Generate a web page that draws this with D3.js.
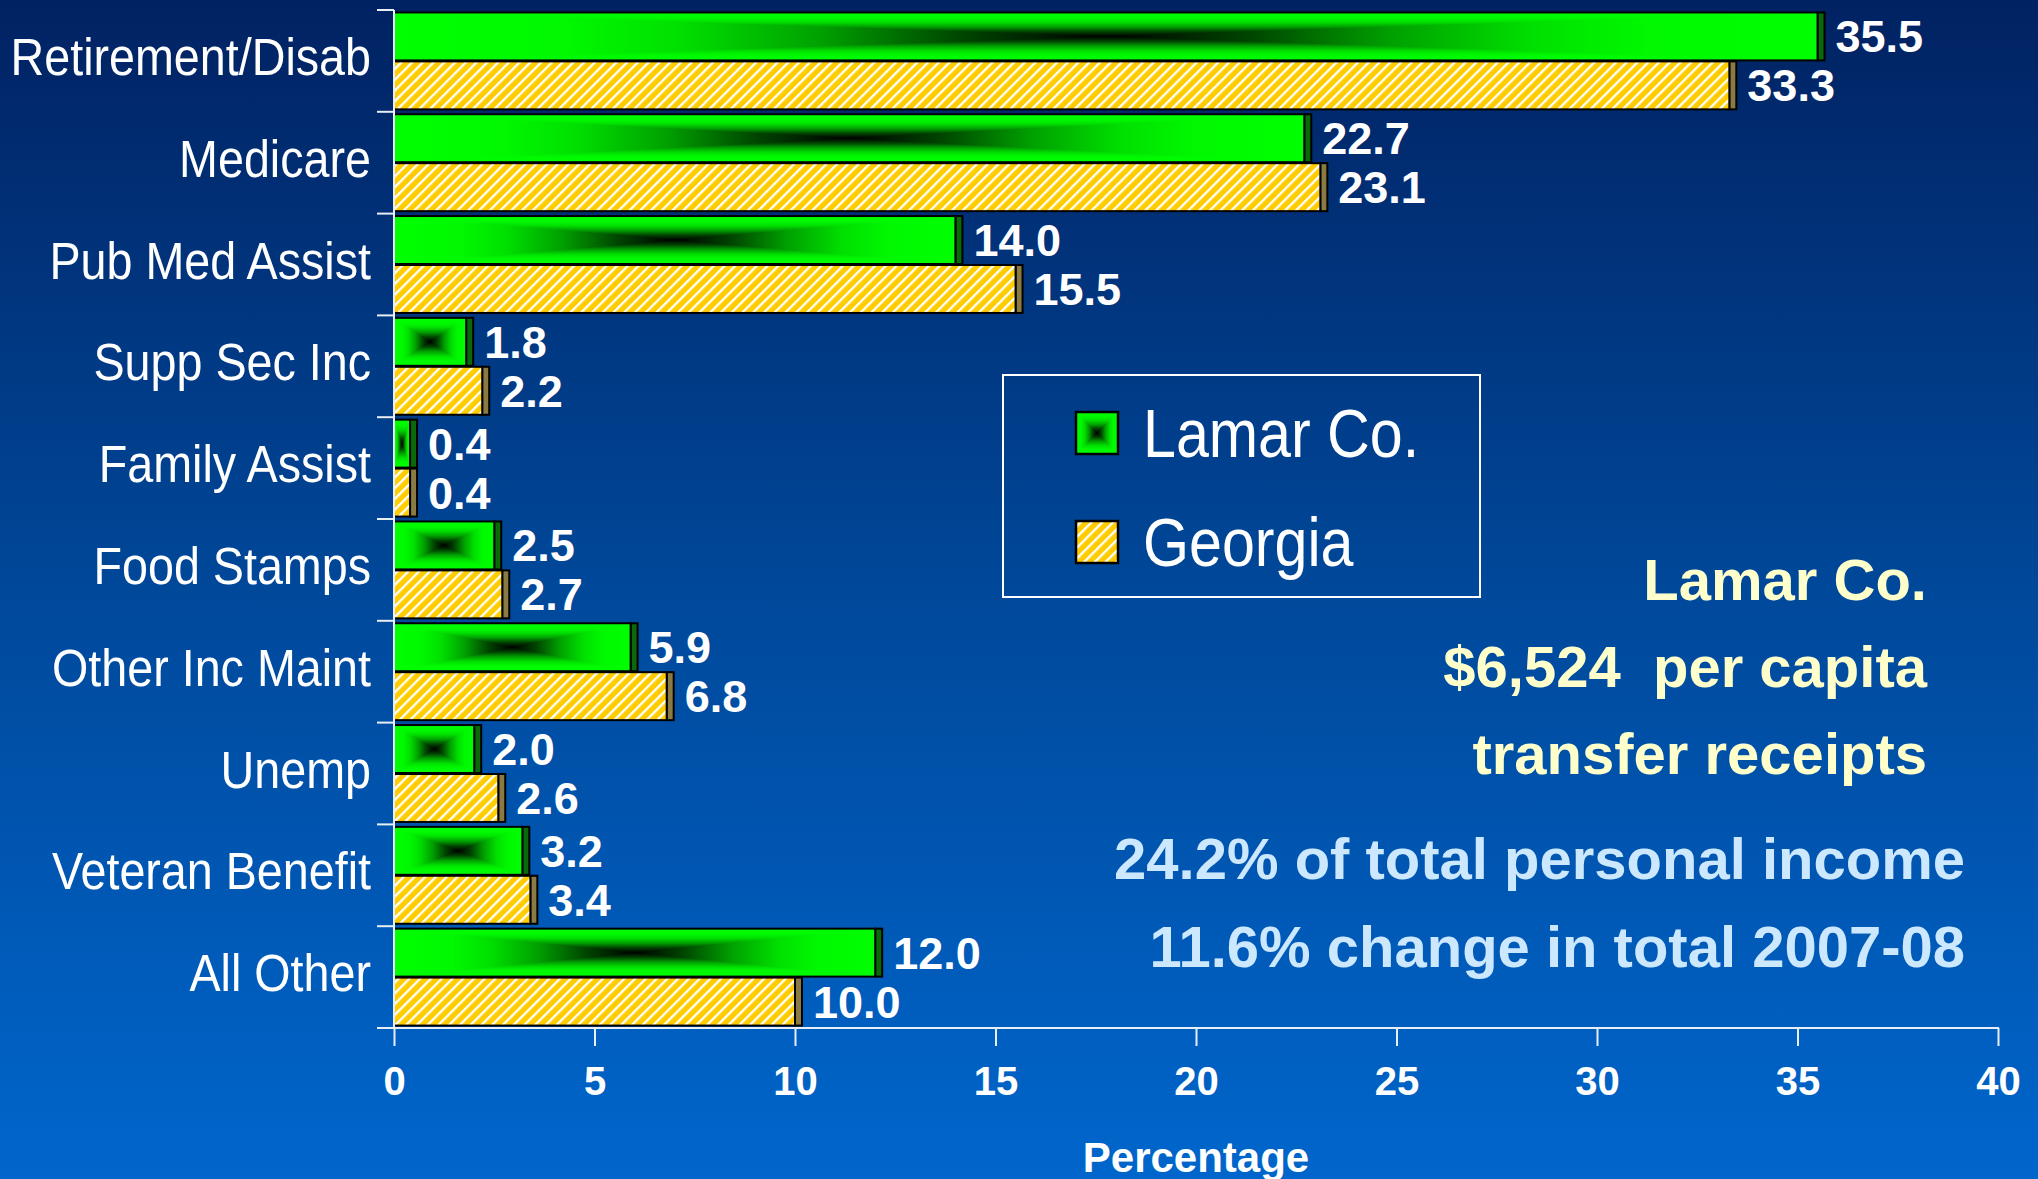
<!DOCTYPE html>
<html>
<head>
<meta charset="utf-8">
<script src="https://cdn.jsdelivr.net/npm/d3@7"></script>
<style>
  html, body { margin: 0; padding: 0; overflow: hidden; background: #0066cc; }
  svg { display: block; }
  text { white-space: pre; }
</style>
</head>
<body>
<script>
// ---------- data ----------
const categories = ["Retirement/Disab", "Medicare", "Pub Med Assist", "Supp Sec Inc", "Family Assist",
                    "Food Stamps", "Other Inc Maint", "Unemp", "Veteran Benefit", "All Other"];
const seriesNames = ["Lamar Co.", "Georgia"];
const lamarValues = [35.5, 22.7, 14.0, 1.8, 0.4, 2.5, 5.9, 2.0, 3.2, 12.0];
const georgiaValues = [33.3, 23.1, 15.5, 2.2, 0.4, 2.7, 6.8, 2.6, 3.4, 10.0];
const xTickValues = [0, 5, 10, 15, 20, 25, 30, 35, 40];
const xAxisTitle = "Percentage";
const noteLinesYellow = ["Lamar Co.", "$6,524  per capita", "transfer receipts"];
const noteLinesBlue = ["24.2% of total personal income", "11.6% change in total 2007-08"];

// ---------- setup ----------
const W = 2038, H = 1179;
const svg = d3.select("body").append("svg").attr("width", W).attr("height", H);
const defs = svg.append("defs");

const bg = defs.append("linearGradient").attr("id", "bg").attr("x1", 0).attr("y1", 0).attr("x2", 0).attr("y2", 1);
bg.append("stop").attr("offset", 0).attr("stop-color", "#012262");
bg.append("stop").attr("offset", 0.5).attr("stop-color", "#00489a");
bg.append("stop").attr("offset", 1).attr("stop-color", "#0066cc");
svg.append("rect").attr("width", W).attr("height", H).attr("fill", "url(#bg)");

// green "from centre" gradient pieces
const gStops = [[0, "#00ff00"], [0.12, "#00f800"], [0.2, "#00e000"], [0.3, "#00a000"], [0.4, "#004400"], [0.5, "#000000"],
                [0.6, "#004400"], [0.7, "#00a000"], [0.8, "#00e000"], [0.88, "#00f800"], [1, "#00ff00"]];
function addGrad(id, horiz) {
  const g = defs.append("linearGradient").attr("id", id)
    .attr("x1", 0).attr("y1", 0).attr("x2", horiz ? 1 : 0).attr("y2", horiz ? 0 : 1);
  gStops.forEach(s => g.append("stop").attr("offset", s[0]).attr("stop-color", s[1]));
}
addGrad("gH", true);
addGrad("gV", false);

// hatch pattern
const pat = defs.append("pattern").attr("id", "hatch").attr("patternUnits", "userSpaceOnUse")
  .attr("width", 7.6).attr("height", 7.6).attr("patternTransform", "rotate(45)");
pat.append("rect").attr("width", 7.6).attr("height", 7.6).attr("fill", "#ffcc00");
pat.append("rect").attr("width", 2.3).attr("height", 7.6).attr("fill", "#ffffff");

// ---------- scales ----------
const x = d3.scaleLinear().domain([0, 40]).range([394, 1998]);
const y = d3.scaleBand().domain(categories).range([10, 1028]).paddingInner(0).paddingOuter(0);
const ySub = d3.scaleBand().domain(seriesNames).range([0, y.bandwidth()]).paddingInner(0.02).paddingOuter(0.05);

const rows = categories.map((c, i) => ({ cat: c, vals: [lamarValues[i], georgiaValues[i]] }));

// ---------- bars ----------
function greenFace(sel, x0, y0, w, h) {
  const g = sel.append("g").style("isolation", "isolate");
  g.append("rect").attr("x", x0).attr("y", y0).attr("width", w).attr("height", h).attr("fill", "url(#gH)");
  g.append("rect").attr("x", x0).attr("y", y0).attr("width", w).attr("height", h).attr("fill", "url(#gV)")
    .style("mix-blend-mode", "lighten");
}

const barsG = svg.append("g");
const depth = 7;
rows.forEach(r => {
  r.vals.forEach((v, si) => {
    const s = seriesNames[si];
    const by = y(r.cat) + ySub(s);
    const bh = ySub.bandwidth();
    const bx = x(0);
    const bw = x(v) - x(0);
    const g = barsG.append("g");
    // side strip
    g.append("rect").attr("x", x(v)).attr("y", by).attr("width", depth).attr("height", bh)
      .attr("fill", si === 0 ? "#0a6a0a" : "#8a7a44").attr("stroke", "#000").attr("stroke-width", 2);
    if (si === 0) greenFace(g, bx, by, bw, bh);
    else g.append("rect").attr("x", bx).attr("y", by).attr("width", bw).attr("height", bh).attr("fill", "url(#hatch)");
    g.append("rect").attr("x", bx).attr("y", by).attr("width", bw).attr("height", bh)
      .attr("fill", "none").attr("stroke", "#000").attr("stroke-width", 2);
    // value label
    g.append("text").attr("x", x(v) + depth + 11).attr("y", by + bh / 2 + 16)
      .attr("fill", "#fff").attr("font-family", "Liberation Sans, Arial, sans-serif")
      .attr("font-weight", "bold").attr("font-size", 45).text(v.toFixed(1));
  });
});

// ---------- axes ----------
const axisColor = "#e8eef6";
// y axis line and band-boundary ticks
svg.append("line").attr("x1", x(0)).attr("x2", x(0)).attr("y1", y.range()[0]).attr("y2", y.range()[1])
  .attr("stroke", axisColor).attr("stroke-width", 2);
const bounds = categories.map(c => y(c)).concat([y.range()[1]]);
svg.append("g").selectAll("line").data(bounds).join("line")
  .attr("x1", x(0) - 17).attr("x2", x(0)).attr("y1", d => d).attr("y2", d => d)
  .attr("stroke", axisColor).attr("stroke-width", 2);

// category labels
svg.append("g").selectAll("g").data(categories).join("g")
  .attr("transform", c => `translate(371,${y(c) + y.bandwidth() / 2 + 14}) scale(0.915,1)`)
  .append("text").attr("text-anchor", "end").attr("fill", "#fff")
  .attr("font-family", "Liberation Sans, Arial, sans-serif").attr("font-size", 51).text(c => c);

// x axis
const xAxis = d3.axisBottom(x).tickValues(xTickValues).tickSize(18).tickSizeOuter(0).tickPadding(21).tickFormat(d3.format("d"));
const xg = svg.append("g").attr("transform", `translate(0,${y.range()[1]})`).call(xAxis);
xg.select(".domain").attr("stroke", axisColor).attr("stroke-width", 2).attr("d", `M${x(0) - 17},0H${x(40) + 1}`);
xg.selectAll(".tick line").attr("stroke", axisColor).attr("stroke-width", 2);
xg.selectAll(".tick text").attr("fill", "#fff").attr("font-family", "Liberation Sans, Arial, sans-serif")
  .attr("font-weight", "bold").attr("font-size", 40).attr("dy", "0.71em");

svg.append("text").attr("x", 1196).attr("y", 1172).attr("text-anchor", "middle").attr("fill", "#fff")
  .attr("font-family", "Liberation Sans, Arial, sans-serif").attr("font-weight", "bold").attr("font-size", 42)
  .text(xAxisTitle);

// ---------- legend ----------
const lg = svg.append("g");
lg.append("rect").attr("x", 1003).attr("y", 375).attr("width", 477).attr("height", 222)
  .attr("fill", "none").attr("stroke", "#ffffff").attr("stroke-width", 2);
seriesNames.forEach((s, i) => {
  const sy = 412 + i * 109;
  if (i === 0) greenFace(lg, 1076, sy, 42, 42);
  else lg.append("rect").attr("x", 1076).attr("y", sy).attr("width", 42).attr("height", 42).attr("fill", "url(#hatch)");
  lg.append("rect").attr("x", 1076).attr("y", sy).attr("width", 42).attr("height", 42)
    .attr("fill", "none").attr("stroke", "#000").attr("stroke-width", 2.5);
  lg.append("g").attr("transform", `translate(1143,${sy + 45}) scale(0.87,1)`)
    .append("text").attr("fill", "#fff").attr("font-family", "Liberation Sans, Arial, sans-serif")
    .attr("font-size", 68).text(s);
});

// ---------- notes ----------
const yellowBaselines = [600, 687, 774];
svg.append("g").selectAll("text").data(noteLinesYellow).join("text")
  .attr("x", 1927).attr("y", (d, i) => yellowBaselines[i]).attr("text-anchor", "end")
  .attr("fill", "#ffffcc").attr("font-family", "Liberation Sans, Arial, sans-serif")
  .attr("font-weight", "bold").attr("font-size", 58).text(d => d);
const blueBaselines = [879, 967];
svg.append("g").selectAll("text").data(noteLinesBlue).join("text")
  .attr("x", 1965).attr("y", (d, i) => blueBaselines[i]).attr("text-anchor", "end")
  .attr("fill", "#cce8ff").attr("font-family", "Liberation Sans, Arial, sans-serif")
  .attr("font-weight", "bold").attr("font-size", 58).text(d => d);
</script>
</body>
</html>
